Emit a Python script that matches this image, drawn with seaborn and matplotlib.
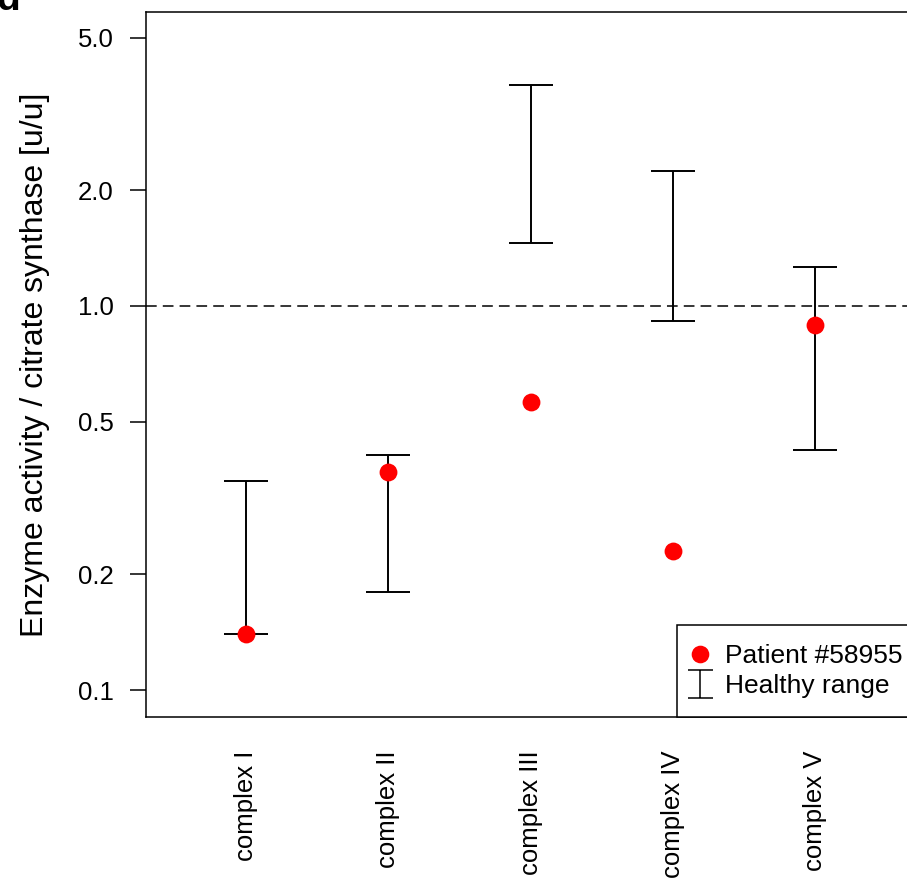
import numpy as np
import matplotlib
matplotlib.use('Agg')
import matplotlib.pyplot as plt
from matplotlib.lines import Line2D
from matplotlib.path import Path
from matplotlib.ticker import NullLocator
import seaborn as sns

# data
complexes = ['complex I', 'complex II', 'complex III', 'complex IV', 'complex V']
patient = [0.140, 0.370, 0.562, 0.230, 0.892]
healthy_low = [0.140, 0.180, 1.459, 0.914, 0.422]
healthy_high = [0.350, 0.409, 3.76, 2.247, 1.263]
yticks = [0.1, 0.2, 0.5, 1.0, 2.0, 5.0]
ytick_labels = ['0.1', '0.2', '0.5', '1.0', '2.0', '5.0']

sns.set_style('ticks')
plt.rcParams['font.family'] = ['Liberation Sans', 'DejaVu Sans']
plt.rcParams.update({'text.color': 'black', 'axes.labelcolor': 'black',
                     'xtick.color': 'black', 'ytick.color': 'black'})

fig = plt.figure(figsize=(9.07, 8.84), dpi=100)
ax = fig.add_axes([0.161, 0.189, 0.848, 0.7975])

pos = np.arange(len(complexes))
low = np.array(healthy_low)
high = np.array(healthy_high)
mid = np.sqrt(low * high)

# reference line at 1.0
ax.axhline(1.0, color='black', lw=1.1, ls=(0, (7, 4)), zorder=1)

# healthy range bars
ax.errorbar(pos, mid, yerr=[mid - low, high - mid], fmt='none',
            ecolor='black', elinewidth=1.4, capsize=15.8, capthick=1.4,
            zorder=2)

# patient values
sns.scatterplot(x=complexes, y=patient, color='red', s=165, linewidth=0,
                ax=ax, zorder=3, legend=False)

ax.set_yscale('log')
ax.set_ylim(0.0851, 5.83)
ax.set_xlim(-0.7, len(complexes) - 0.3)
ax.set_yticks(yticks)
ax.set_yticklabels(ytick_labels)
ax.yaxis.set_minor_locator(NullLocator())
ax.set_xticks(pos)
ax.set_xticklabels(complexes)

ax.tick_params(axis='y', length=11.5, width=1.1, pad=12, labelsize=18.5,
               direction='out', color='black')
ax.tick_params(axis='x', length=0, pad=24, labelsize=18.5, labelrotation=90)
for s in ax.spines.values():
    s.set_linewidth(1.1)
    s.set_color('black')

ax.set_xlabel('')
ax.set_ylabel('Enzyme activity / citrate synthase [u/u]', fontsize=23,
              labelpad=20)

# legend
i_shape = Path([(-0.9, -1), (0.9, -1), (0, -1), (0, 1), (-0.9, 1), (0.9, 1)],
               [Path.MOVETO, Path.LINETO, Path.MOVETO, Path.LINETO,
                Path.MOVETO, Path.LINETO])
handles = [
    Line2D([], [], ls='none', marker='o', color='red', markersize=12.7,
           markeredgewidth=0),
    Line2D([], [], ls='none', marker=i_shape, markersize=20, color='black',
           markerfacecolor='none', markeredgewidth=1.1),
]
leg = ax.legend(handles, ['Patient #58955', 'Healthy range'],
                loc='lower right', bbox_to_anchor=(1.008, 0), borderaxespad=0,
                fontsize=19, frameon=True, fancybox=False,
                edgecolor='black', framealpha=1, handlelength=0.33,
                handletextpad=0.78, labelspacing=0.24, borderpad=0.71)
leg.get_frame().set_linewidth(1.1)

fig.text(-0.004, 0.9887, 'd', fontsize=28, fontweight='bold',
         va='baseline', ha='left')

fig.savefig('out.png', dpi=100)
